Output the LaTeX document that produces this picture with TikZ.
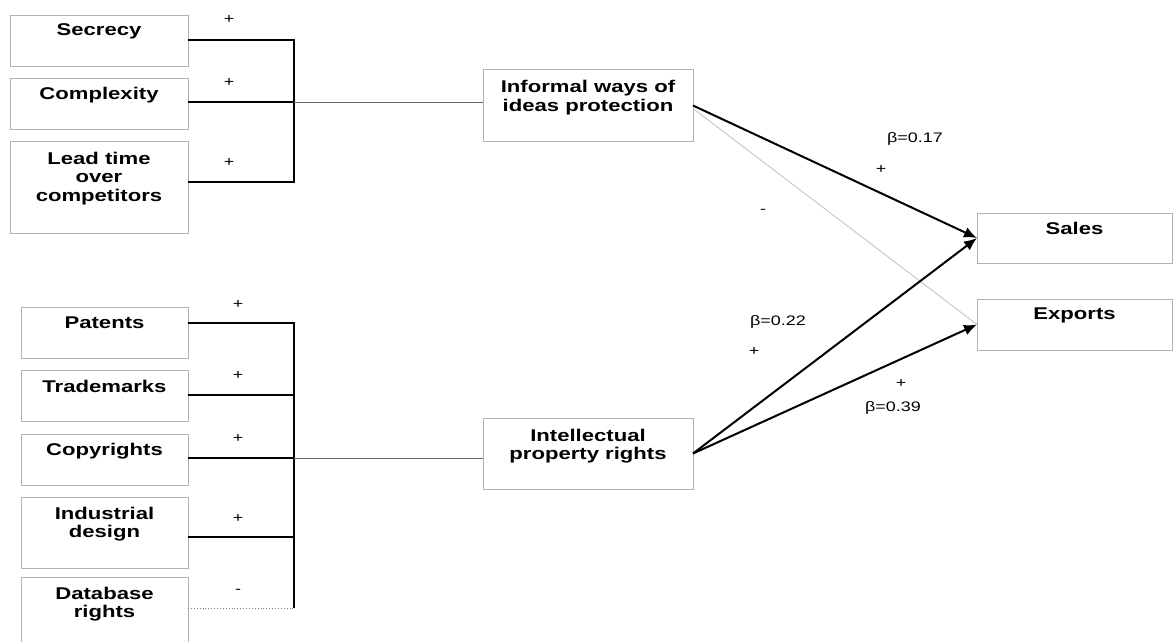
\documentclass[tikz,border=0pt]{standalone}
\usepackage{fontspec}
\newfontfamily\diagfont[FakeStretch=1.3]{Liberation Sans}
\usepackage{tikz}
\usetikzlibrary{arrows.meta,positioning}
\tikzset{
    boxnode/.style = {
        rectangle,
        draw=black!30,
        line width=0.9pt,
        inner sep=0pt,
        outer sep=0pt,
        minimum width=178pt,
        minimum height=51pt
    },
    smallboxnode/.style = {
        boxnode,
        minimum width=167pt
    },
    boxtext/.style = {
        align=center,
        inner sep=0pt,
        outer sep=0pt,
        font=\diagfont\bfseries\fontsize{17}{18.5}\selectfont
    },
    signlabel/.style = {
        inner sep=0pt,
        font=\diagfont\fontsize{13.8}{15}\selectfont
    },
    link/.style = {draw=black, line width=1.5pt},
    feedlink/.style = {draw=black!60, line width=1pt},
    dblink/.style = {draw=black!50, line width=0.9pt, dotted},
    effect/.style = {draw=black, line width=2pt, -{Latex[length=13pt,width=11pt]}},
    weakeffect/.style = {draw=black!25, line width=0.8pt}
}

\begin{document}
\begin{tikzpicture}[x=1pt, y=-1pt]
    \useasboundingbox (0,0) rectangle (1173,641);

    % informal ways
    \node [boxnode] (secrecy) at (99,40.5) {};
    \node [boxnode, below=12pt of secrecy] (complexity) {};
    \node [boxnode, minimum height=92pt, below=12pt of complexity] (leadtime) {};
    \node [boxtext, below=9pt of secrecy.north] (secrecy-t) {Secrecy};
    \node [boxtext, below=9pt of complexity.north] (complexity-t) {Complexity};
    \node [boxtext, below=11pt of leadtime.north] (leadtime-t) {Lead time\\over\\competitors};

    % formal rights
    \node [smallboxnode] (patents) at (104.5,332.5) {};
    \node [smallboxnode, below=12pt of patents] (trademarks) {};
    \node [smallboxnode, below=13pt of trademarks] (copyrights) {};
    \node [smallboxnode, minimum height=71pt, below=12pt of copyrights] (industrial) {};
    \node [smallboxnode, minimum height=66pt, below=9pt of industrial] (database) {};
    \node [boxtext, below=10pt of patents.north] (patents-t) {Patents};
    \node [boxtext, below=10pt of trademarks.north] (trademarks-t) {Trademarks};
    \node [boxtext, below=9pt of copyrights.north] (copyrights-t) {Copyrights};
    \node [boxtext, below=10pt of industrial.north] (industrial-t) {Industrial\\design};
    \node [boxtext, below=10pt of database.north] (database-t) {Database\\rights};

    % constructs and outcomes
    \node [boxnode, minimum width=210pt, minimum height=72pt] (informal) at (588,105.5) {};
    \node [boxnode, minimum width=210pt, minimum height=71pt] (intellectual) at (588,453.5) {};
    \node [boxnode, minimum width=195pt, minimum height=50pt] (sales) at (1074.5,238) {};
    \node [boxnode, minimum width=195pt, minimum height=51pt, below=36pt of sales] (exports) {};
    \node [boxtext, below=11pt of informal.north] (informal-t) {Informal ways of\\ideas protection};
    \node [boxtext, below=11pt of intellectual.north] (intellectual-t) {Intellectual\\property rights};
    \node [boxtext, below=9pt of sales.north] (sales-t) {Sales};
    \node [boxtext, below=9pt of exports.north] (exports-t) {Exports};

    % upper bracket
    \coordinate (upperbar) at (294,0);
    \coordinate (secrecy-o) at ([yshift=-25pt]secrecy.north east);
    \coordinate (complexity-o) at ([yshift=-24pt]complexity.north east);
    \coordinate (leadtime-o) at ([yshift=-41pt]leadtime.north east);
    \draw [link] (secrecy-o) -| (leadtime-o -| upperbar) -- (leadtime-o);
    \draw [link] (complexity-o) -- (complexity-o -| upperbar);
    \draw [feedlink] (complexity-o -| upperbar) -- (complexity-o -| informal.west);

    % lower bracket
    \coordinate (lowerbar) at (294,0);
    \coordinate (patents-o) at ([yshift=-16pt]patents.north east);
    \coordinate (trademarks-o) at ([yshift=-25pt]trademarks.north east);
    \coordinate (copyrights-o) at ([yshift=-24pt]copyrights.north east);
    \coordinate (industrial-o) at ([yshift=-40pt]industrial.north east);
    \coordinate (database-o) at ([yshift=-31pt]database.north east);
    \draw [link] (patents-o) -| (database-o -| lowerbar);
    \draw [link] (trademarks-o) -- (trademarks-o -| lowerbar);
    \draw [link] (copyrights-o) -- (copyrights-o -| lowerbar);
    \draw [feedlink] (copyrights-o -| lowerbar) -- (copyrights-o -| intellectual.west);
    \draw [link] (industrial-o) -- (industrial-o -| lowerbar);
    \draw [dblink] (database-o) -- (database-o -| lowerbar);

    % effects
    \draw [weakeffect] ([yshift=-3pt]informal.east) -- (exports.west);
    \draw [effect] (informal.east) -- (sales.west);
    \draw [effect] (intellectual.east) -- (sales.west);
    \draw [effect] (intellectual.east) -- (exports.west);

    % signs
    \node [signlabel] (secrecy-s) at (229,20) {+};
    \node [signlabel] (complexity-s) at (229,83) {+};
    \node [signlabel] (leadtime-s) at (229,163) {+};
    \node [signlabel] (patents-s) at (238,305) {+};
    \node [signlabel] (trademarks-s) at (238,376) {+};
    \node [signlabel] (copyrights-s) at (238,439) {+};
    \node [signlabel] (industrial-s) at (238,519) {+};
    \node [signlabel] (database-s) at (238,591) {-};
    \node [signlabel] (informal-sales-b) at (915,139) {β=0.17};
    \node [signlabel] (informal-sales-s) at (881,170) {+};
    \node [signlabel] (informal-exports-s) at (763,211) {-};
    \node [signlabel] (ipr-sales-b) at (778,322) {β=0.22};
    \node [signlabel] (ipr-sales-s) at (754,352) {+};
    \node [signlabel] (ipr-exports-s) at (901,384) {+};
    \node [signlabel] (ipr-exports-b) at (893,408) {β=0.39};
\end{tikzpicture}
\end{document}
